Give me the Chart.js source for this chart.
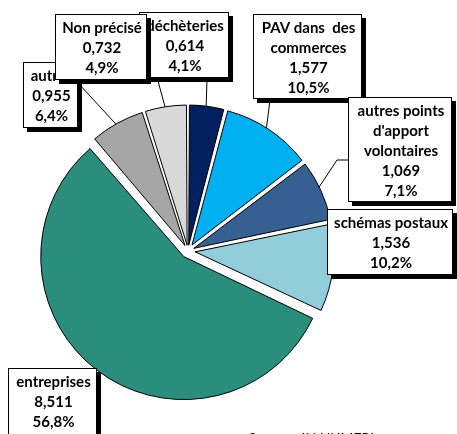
<!DOCTYPE html>
<html>
<head>
<meta charset="utf-8">
<script src="https://cdn.jsdelivr.net/npm/chart.js@4"></script>
<style>
  html, body { margin: 0; padding: 0; background: #fff; }
  canvas { display: block; }
</style>
</head>
<body>
<canvas id="pie" width="457" height="434"></canvas>
<script>
// Données (millions) — sens horaire depuis midi
const categories = [
  ['déchèteries'],
  ['PAV dans  des', 'commerces'],
  ['autres points', "d'apport", 'volontaires'],
  ['schémas postaux'],
  ['entreprises'],
  ['autres'],
  ['Non précisé'],
];
const values = [0.614, 1.577, 1.069, 1.536, 8.511, 0.955, 0.732];
const sourceText = 'Source : IN NUMERI';

const sliceColors = ['#002060', '#00B0F0', '#376092', '#92CDDC', '#2B8E7C', '#A6A6A6', '#D9D9D9'];
// éclatement voulu en pixels
const explodePx = [10, 10, 10, 10, 14, 10, 10];

// boîtes d'étiquettes : x, y, w, h, ligne de rappel (point de départ, coude)
const boxes = [
  { x: 139, y: 12, w: 90, h: 66, line: [[207, 79]] },
  { x: 253, y: 14, w: 109, h: 85, line: [[270, 100]] },
  { x: 348, y: 97, w: 104, h: 105, line: [[348, 160], [337, 160]] },
  { x: 327, y: 209, w: 126, h: 66, line: null },
  { x: 8, y: 368, w: 89, h: 80, line: null },
  { x: 23, y: 62, w: 55, h: 66, line: [[79, 84]] },
  { x: 55, y: 14, w: 92, h: 66, line: [[158, 81]] },
];
const drawOrder = [4, 3, 1, 2, 5, 0, 6];

const total = values.reduce((a, b) => a + b, 0);
const fmt = (v, d) => v.toFixed(d).replace('.', ',');

// Chart.js translate l'arc de offset/4*(1+fix) : on inverse pour obtenir explodePx
const offsets = values.map((v, i) => {
  const c = v / total * Math.PI * 2;
  const fix = 1 - Math.sin(Math.min(Math.PI, c));
  return explodePx[i] * 4 / (1 + fix);
});

function arcAnchor(el, i, inset) {
  const mid = (el.startAngle + el.endAngle) / 2;
  const r = el.outerRadius + explodePx[i] - inset;
  return [el.x + Math.cos(mid) * r, el.y + Math.sin(mid) * r];
}

const labelBoxes = {
  id: 'labelBoxes',
  beforeDatasetsDraw(chart) {
    const ctx = chart.ctx;
    const arcs = chart.getDatasetMeta(0).data;
    ctx.save();
    ctx.strokeStyle = '#000';
    ctx.lineWidth = 1;
    boxes.forEach((b, i) => {
      if (!b.line) return;
      const end = arcAnchor(arcs[i], i, 6);
      ctx.beginPath();
      ctx.moveTo(b.line[0][0], b.line[0][1]);
      b.line.slice(1).forEach(p => ctx.lineTo(p[0], p[1]));
      ctx.lineTo(end[0], end[1]);
      ctx.stroke();
    });
    ctx.restore();
  },
  afterDraw(chart) {
    const ctx = chart.ctx;
    ctx.save();
    drawOrder.forEach(i => {
      const b = boxes[i];
      ctx.fillStyle = '#000';
      ctx.fillRect(b.x + 4, b.y + 4, b.w, b.h);
      ctx.fillStyle = '#fff';
      ctx.fillRect(b.x, b.y, b.w, b.h);
      ctx.strokeStyle = '#000';
      ctx.lineWidth = 1;
      ctx.strokeRect(b.x + 0.5, b.y + 0.5, b.w - 1, b.h - 1);
      const lines = [...categories[i], fmt(values[i], 3), fmt(values[i] / total * 100, 1) + '%'];
      ctx.fillStyle = '#000';
      ctx.font = 'bold 15px Lato';
      ctx.textAlign = 'center';
      ctx.textBaseline = 'middle';
      const cx = b.x + b.w / 2 + 1;
      lines.forEach((t, k) => ctx.fillText(t, cx, b.y + 14 + k * 20));
    });
    ctx.font = 'italic 15px Lato';
    ctx.textAlign = 'left';
    ctx.textBaseline = 'alphabetic';
    ctx.fillStyle = '#000';
    ctx.fillText(sourceText, 248, 444);
    ctx.restore();
  },
};

new Chart(document.getElementById('pie'), {
  type: 'pie',
  data: {
    labels: categories.map(c => c.join(' ')),
    datasets: [{
      data: values,
      backgroundColor: sliceColors,
      borderColor: '#000',
      borderWidth: 1,
      offset: offsets,
      hoverOffset: 0,
    }],
  },
  options: {
    responsive: false,
    animation: false,
    radius: 136,
    layout: { padding: { left: 0, right: 81, top: 68, bottom: 0 } },
    plugins: { legend: { display: false }, tooltip: { enabled: false } },
    events: [],
  },
  plugins: [labelBoxes],
});
</script>
</body>
</html>
